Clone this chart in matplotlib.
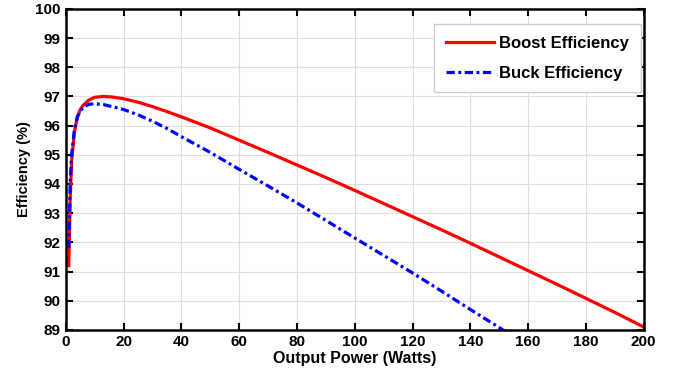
import numpy as np
import matplotlib
matplotlib.use("Agg")
from matplotlib import pyplot as plt

plt.rcParams['font.family'] = ['Liberation Sans', 'DejaVu Sans']
plt.rcParams['font.weight'] = 'bold'

boost_p = [1, 1.5, 2, 3, 4, 5, 6, 8, 10, 13, 16, 20, 25, 30, 35, 40, 50, 60, 70,
           80, 90, 100, 110, 120, 130, 140, 150, 160, 170, 180, 190, 200]
boost_eff = [91.2, 93.5, 94.8, 95.8, 96.3, 96.55, 96.7, 96.88, 96.97, 97.0, 96.98,
             96.92, 96.8, 96.65, 96.48, 96.3, 95.92, 95.5, 95.08, 94.65, 94.22,
             93.78, 93.33, 92.88, 92.43, 91.97, 91.5, 91.03, 90.56, 90.08, 89.6, 89.1]

buck_p = [1, 1.5, 2, 3, 4, 5, 6, 8, 10, 13, 16, 20, 25, 30, 35, 40, 50, 60, 70,
          80, 90, 100, 110, 120, 130, 140, 150, 152]
buck_eff = [91.8, 94.0, 95.0, 95.9, 96.3, 96.5, 96.62, 96.73, 96.75, 96.72, 96.65,
            96.55, 96.37, 96.15, 95.9, 95.62, 95.08, 94.5, 93.93, 93.35, 92.75,
            92.15, 91.55, 90.95, 90.33, 89.7, 89.08, 88.95]

fig = plt.figure(figsize=(6.79, 3.69), dpi=100)
ax = fig.add_axes([0.097, 0.106, 0.851, 0.870])

ax.plot(boost_p, boost_eff, color='red', lw=2.3, label='Boost Efficiency')
ax.plot(buck_p, buck_eff, color='blue', lw=2.3, dashes=(2.6, 1.1, 0.9, 1.1),
        label='Buck Efficiency')

ax.set_xlim(0, 200)
ax.set_ylim(89, 100)
ax.set_xticks(np.arange(0, 201, 20))
ax.set_yticks(np.arange(89, 101, 1))
ax.grid(True, color='#dddddd', lw=0.8)
ax.tick_params(direction='in', top=True, right=True, length=5, width=1.5,
               labelsize=11, pad=4)
for s in ax.spines.values():
    s.set_linewidth(1.8)
ax.set_xlabel('Output Power (Watts)', fontsize=11.5, fontweight='bold', labelpad=1)
ax.set_ylabel('Efficiency (%)', fontsize=10.5, fontweight='bold', labelpad=3)

leg = ax.legend(loc='upper right', bbox_to_anchor=(0.995, 0.953), fontsize=12,
                fancybox=False, framealpha=1, edgecolor='#cccccc',
                handlelength=2.9, handletextpad=0.3, labelspacing=0.9,
                borderpad=0.7, borderaxespad=0)
for t in leg.get_texts():
    t.set_fontweight('bold')

fig.savefig('out.png', dpi=100)
